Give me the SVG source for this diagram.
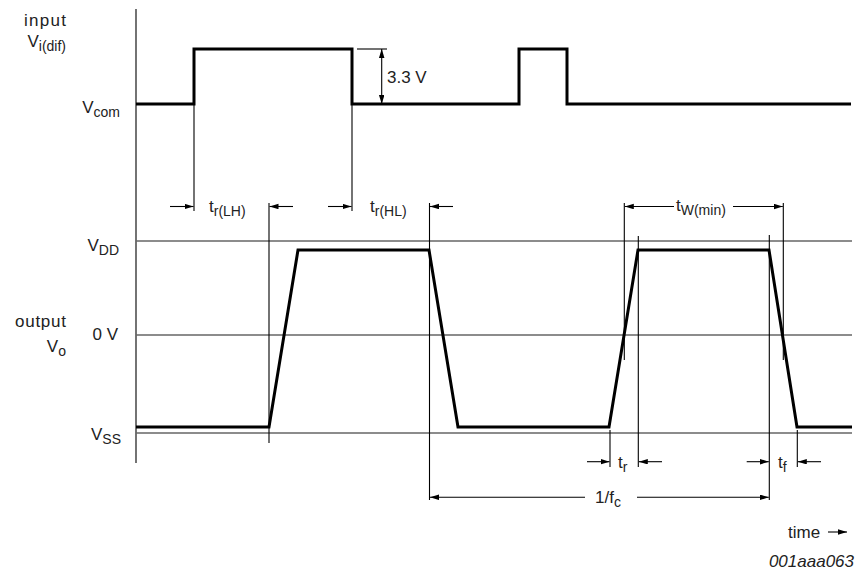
<svg xmlns="http://www.w3.org/2000/svg" width="858" height="575" viewBox="0 0 858 575">
<defs>
<marker id="ah" markerUnits="userSpaceOnUse" markerWidth="10" markerHeight="6" refX="9" refY="2.75" orient="auto">
<path d="M0,0 L9,2.75 L0,5.5 z" fill="#000"/>
</marker>
<style>
.t{font-family:"Liberation Sans",Arial,sans-serif;font-size:17px;fill:#222}
.s{font-size:14px}
.sig{fill:none;stroke:#000;stroke-width:3;stroke-linejoin:miter}
.grid{stroke:#666;stroke-width:1.4}
.thin{stroke:#000;stroke-width:1.1;fill:none}
.arr{stroke:#000;stroke-width:1.1;fill:none;marker-end:url(#ah)}
</style>
</defs>
<rect width="858" height="575" fill="#fff"/>
<g id="axis">
<line class="thin" x1="136" y1="9" x2="136" y2="463" stroke-width="1.3"/>
</g>
<g id="grid">
<line class="grid" x1="136" y1="241" x2="852" y2="241"/>
<line class="grid" x1="136" y1="335" x2="852" y2="335"/>
<line class="grid" x1="136" y1="433" x2="852" y2="433"/>
</g>
<g id="input-signal">
<polyline class="sig" points="136,104 194,104 194,49 352,49 352,104 519,104 519,49 567,49 567,104 851,104"/>
</g>
<g id="output-signal">
<polyline class="sig" points="136,427 269,427 298,250 429,250 458,427 609,427 638,250 769,250 797,427 852,427"/>
</g>
<g id="connectors">
<line class="thin" x1="357" y1="49" x2="387" y2="49"/>
<line class="arr" x1="381.7" y1="76" x2="381.7" y2="49"/>
<line class="arr" x1="381.7" y1="76" x2="381.7" y2="104"/>
<line class="thin" x1="194" y1="104" x2="194" y2="211"/>
<line class="thin" x1="352" y1="104" x2="352" y2="211"/>
<line class="thin" x1="269" y1="203" x2="269" y2="443"/>
<line class="thin" x1="429.5" y1="203" x2="429.5" y2="500"/>
<line class="thin" x1="624.3" y1="203" x2="624.3" y2="360"/>
<line class="thin" x1="638.3" y1="236" x2="638.3" y2="467"/>
<line class="thin" x1="610" y1="430" x2="610" y2="467"/>
<line class="thin" x1="769.3" y1="235" x2="769.3" y2="500"/>
<line class="thin" x1="783.3" y1="203" x2="783.3" y2="360"/>
<line class="thin" x1="797.3" y1="430" x2="797.3" y2="467"/>
<line class="arr" x1="170" y1="206.5" x2="193.5" y2="206.5"/>
<line class="arr" x1="293" y1="206.5" x2="269.5" y2="206.5"/>
<line class="arr" x1="328" y1="206.5" x2="351.5" y2="206.5"/>
<line class="arr" x1="453" y1="206.5" x2="430" y2="206.5"/>
<line class="arr" x1="674" y1="206.5" x2="624.8" y2="206.5"/>
<line class="arr" x1="733" y1="206.5" x2="782.8" y2="206.5"/>
<line class="arr" x1="587" y1="461.7" x2="609.5" y2="461.7"/>
<line class="arr" x1="662" y1="461.7" x2="638.8" y2="461.7"/>
<line class="arr" x1="746.7" y1="461.7" x2="768.8" y2="461.7"/>
<line class="arr" x1="821" y1="461.7" x2="797.8" y2="461.7"/>
<line class="arr" x1="585" y1="497.3" x2="430" y2="497.3"/>
<line class="arr" x1="637" y1="497.3" x2="768.8" y2="497.3"/>
<line class="arr" x1="828" y1="532" x2="847" y2="532"/>
</g>
<g id="labels">
<text class="t" x="66" y="26" text-anchor="end" textLength="42">input</text>
<text class="t" x="66" y="47" text-anchor="end">V<tspan class="s" dy="4">i(dif)</tspan></text>
<text class="t" x="120" y="113" text-anchor="end">V<tspan class="s" dy="4">com</tspan></text>
<text class="t" x="387" y="83">3.3 V</text>
<text class="t" x="119" y="251" text-anchor="end">V<tspan class="s" dy="4">DD</tspan></text>
<text class="t" x="66" y="327" text-anchor="end" textLength="51">output</text>
<text class="t" x="66" y="352" text-anchor="end">V<tspan class="s" dy="4">o</tspan></text>
<text class="t" x="118" y="340" text-anchor="end">0 V</text>
<text class="t" x="121" y="440" text-anchor="end">V<tspan class="s" dy="4">SS</tspan></text>
<text class="t" x="209" y="212">t<tspan class="s" dy="4">r(LH)</tspan></text>
<text class="t" x="370" y="212">t<tspan class="s" dy="4">r(HL)</tspan></text>
<text class="t" x="676" y="211">t<tspan class="s" dy="4">W(min)</tspan></text>
<text class="t" x="618" y="468">t<tspan class="s" dy="4">r</tspan></text>
<text class="t" x="778" y="468">t<tspan class="s" dy="4">f</tspan></text>
<text class="t" x="595" y="503">1/f<tspan class="s" dy="4">c</tspan></text>
<text class="t" x="788" y="538">time</text>
<text class="t" x="854" y="567" text-anchor="end" font-style="italic" font-size="15">001aaa063</text>
</g>
</svg>
